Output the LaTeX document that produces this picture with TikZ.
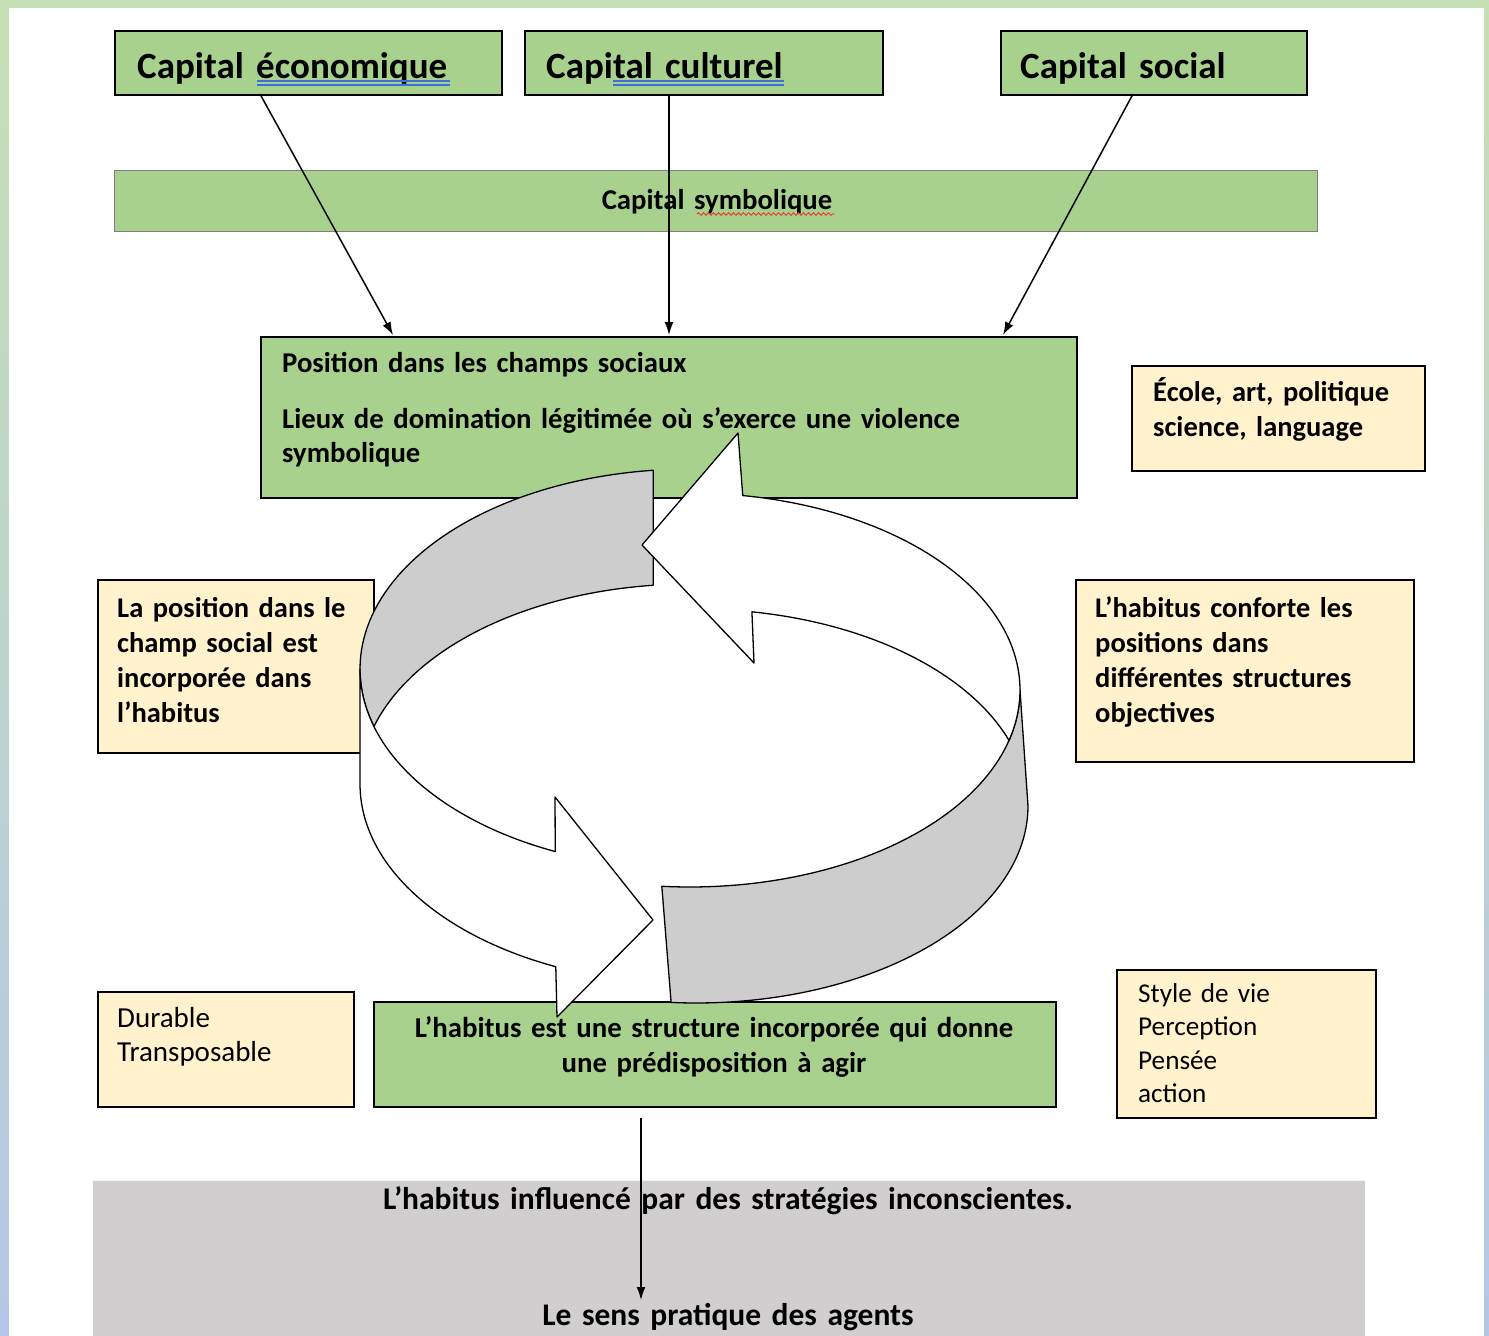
\documentclass[tikz,border=0pt]{standalone}
\usepackage{fontspec}
\setmainfont{Carlito}
\usetikzlibrary{arrows.meta,shadows,decorations.pathmorphing}
\definecolor{bgtop}{HTML}{C5E0B4}
\definecolor{bgbot}{HTML}{B4C7E7}
\definecolor{gfill}{HTML}{A9D18E}
\definecolor{yfill}{HTML}{FFF2CC}
\definecolor{bandgray}{HTML}{D0CECE}
\definecolor{ringgray}{HTML}{CDCDCD}
\definecolor{proofblue}{HTML}{3C6FD8}
\definecolor{proofred}{HTML}{E8382F}
\newcommand\myfontCap{\bfseries\fontsize{37}{44}\selectfont}
\newcommand\myfontB{\bfseries\fontsize{28.5}{35.3}\selectfont}
\newcommand\myfontH{\bfseries\fontsize{28.8}{35}\selectfont}
\newcommand\myfontP{\bfseries\fontsize{28.7}{34.3}\selectfont}
\newcommand\myfontG{\bfseries\fontsize{31.5}{36}\selectfont}
\newcommand\myfontR{\fontsize{29}{34}\selectfont}
\newcommand\myfontS{\fontsize{27.2}{33.6}\selectfont}
\begin{document}
\begin{tikzpicture}[x=1pt,y=-1pt,
  box/.style={draw=black,line width=1.8pt,inner sep=0pt,anchor=north west},
  shbox/.style={box,drop shadow={shadow xshift=1.5pt,shadow yshift=-1.5pt,opacity=0.3}},
  gbox/.style={shbox,fill=gfill},
  ybox/.style={shbox,fill=yfill},
  txtl/.style={inner sep=0pt,anchor=base west,align=left,text width=#1},
  txtc/.style={inner sep=0pt,anchor=base,align=center,text width=#1},
  ring/.style={draw=black,line width=1.3pt,line join=round},
  conn/.style={draw=black,line width=1.5pt,-{Latex[length=13pt,width=9pt]}},
  proof/.style={proofblue,line width=1.1pt},
]
\useasboundingbox (0,0) rectangle (1489,1336);
% background frame
\shade[top color=bgtop,bottom color=bgbot] (0,0) rectangle (1489,1336);
\fill[white] (9,8) rectangle (1484,1336);

% bottom grey band
\node[fill=bandgray,inner sep=0pt,anchor=north west,minimum width=1272pt,minimum height=156pt] (band) at (93,1180) {};
\draw[white!80!bandgray,line width=1pt] (band.north west) -- (band.north east);

% boxes
\node[gbox,minimum width=387pt,minimum height=64pt] (ce) at (114,30) {};
\node[gbox,minimum width=358pt,minimum height=64pt] (cc) at (524,30) {};
\node[gbox,minimum width=306pt,minimum height=64pt] (cs) at (1000,30) {};
\node[draw=black!50,line width=1pt,fill=gfill,inner sep=0pt,anchor=north west,minimum width=1203pt,minimum height=61pt] (csym) at (114,170) {};
\node[box,fill=gfill,line width=1.5pt,minimum width=816pt,minimum height=161pt] (pos) at (260,336) {};
\node[ybox,minimum width=293pt,minimum height=105pt] (ecole) at (1131,365) {};
\node[ybox,minimum width=276pt,minimum height=173pt] (lapos) at (97,579) {};
\node[ybox,minimum width=338pt,minimum height=182pt] (conf) at (1075,579) {};
\node[ybox,minimum width=256pt,minimum height=115pt] (dur) at (97,991) {};
\node[gbox,minimum width=682pt,minimum height=105pt] (hab) at (373,1001) {};
\node[ybox,minimum width=259pt,minimum height=148pt] (style) at (1116,969) {};

% connectors
\coordinate (s1) at (260,94);  \coordinate (e1) at (393,335);
\coordinate (s2) at (669,94);  \coordinate (e2) at (669,335);
\coordinate (s3) at (1133,94); \coordinate (e3) at (1003,335);
\coordinate (s4) at (641,1118); \coordinate (e4) at (641,1300);
\draw[conn] (s1) -- (e1);
\draw[conn] (s2) -- (e2);
\draw[conn] (s3) -- (e3);
\draw[conn] (s4) -- (e4);

% circular arrows (3D band)
% grey tail, upper left
\draw[ring,fill=ringgray]
  plot[domain=263.6:163.3,samples=60,variable=\t] ({690+330*cos(\t)},{669+200*sin(\t)})
  -- plot[domain=196.7:263.6,samples=50,variable=\t] ({690+330*cos(\t)},{784+200*sin(\t)}) -- cycle;
% grey tail, lower right
\draw[ring,fill=ringgray]
  plot[domain=94.9:0,samples=60,variable=\t] ({690+330*cos(\t)},{690+197*sin(\t)})
  -- plot[domain=0:94.3,samples=60,variable=\t] ({696+332*cos(\t)},{806+197*sin(\t)}) -- cycle;
% white arrow, lower left (head to the right)
\draw[ring,fill=white]
  plot[domain=180:114.1,samples=50,variable=\t] ({690+330*cos(\t)},{669+200*sin(\t)})
  -- (555,797) -- (653,920) -- (557,1017)
  -- plot[domain=114:180,samples=50,variable=\t] ({690+330*cos(\t)},{784+200*sin(\t)}) -- cycle;
% white arrow, upper right (head to the left)
\draw[ring,fill=white] (642,545) -- (738,433)
  -- plot[domain=279.2:360,samples=60,variable=\t] ({690+330*cos(\t)},{690+197*sin(\t)})
  -- plot[domain=0:15.2,samples=15,variable=\t] ({690+330*cos(\t)},{690+197*sin(\t)})
  -- plot[domain=340.3:279.7,samples=50,variable=\t] ({696+332*cos(\t)},{806+197*sin(\t)})
  -- (754,663) -- cycle;

% texts
\node[txtl=360pt,font=\myfontCap] (tce) at (137,78) {Capital économique};
\node[txtl=330pt,font=\myfontCap] (tcc) at (546,78) {Capital culturel};
\node[txtl=280pt,font=\myfontCap] (tcs) at (1020,78) {Capital social};
\draw[proof] (257,81) -- (450,81) (257,85) -- (450,85);
\draw[proof] (613,81) -- (784,81) (613,85) -- (784,85);
\node[txtc=400pt,font=\myfontP] (tsym) at (717,209) {Capital symbolique};
\draw[proofred,line width=0.9pt,decorate,decoration={snake,amplitude=1.3pt,segment length=5pt}] (697,214) -- (835,214);
\node[txtl=780pt,font=\myfontP] (tpos) at (282,372) {Position dans les champs sociaux\\[21.7pt]Lieux de domination légitimée où s’exerce une violence\\symbolique};
\node[txtl=270pt,font=\myfontB] (tecole) at (1153,401) {École, art, politique\\science, language};
\node[txtl=250pt,font=\myfontB] (tlapos) at (117,617) {La position dans le\\champ social est\\incorporée dans\\l’habitus};
\node[txtl=300pt,font=\myfontB] (tconf) at (1095,617) {L’habitus conforte les\\positions dans\\différentes structures\\objectives};
\node[txtl=220pt,font=\myfontR] (tdur) at (117,1027) {Durable\\Transposable};
\node[txtc=660pt,font=\myfontH] (thab) at (714,1037) {L’habitus est une structure incorporée qui donne\\une prédisposition à agir};
\node[txtl=230pt,font=\myfontS] (tstyle) at (1138,1002) {Style de vie\\Perception\\Pensée\\action};
\node[txtc=1000pt,font=\myfontG] (tband1) at (728,1209) {L’habitus influencé par des stratégies inconscientes.};
\node[txtc=800pt,font=\myfontG] (tband2) at (728,1325) {Le sens pratique des agents};
\end{tikzpicture}
\end{document}
